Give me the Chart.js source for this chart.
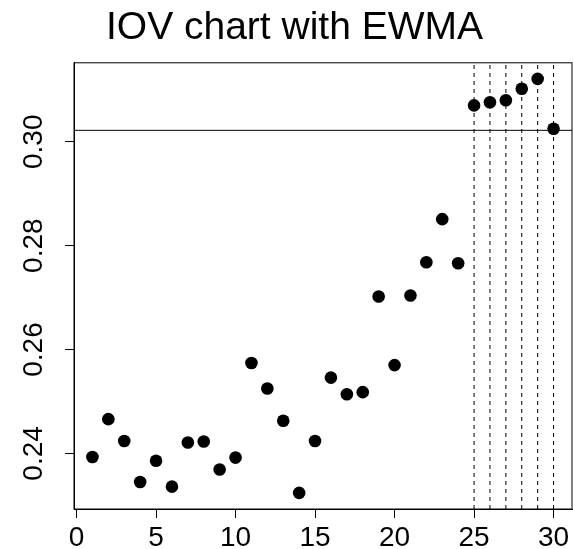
<!DOCTYPE html>
<html>
<head>
<meta charset="utf-8">
<script src="https://cdn.jsdelivr.net/npm/chart.js@4/dist/chart.umd.min.js"></script>
<style>
  body { margin: 0; background: #fff; }
  canvas { display: block; }
</style>
</head>
<body>
<canvas id="iov" width="573" height="549"></canvas>
<script>
var obsX = [1, 2, 3, 4, 5, 6, 7, 8, 9, 10, 11, 12, 13, 14, 15,
            16, 17, 18, 19, 20, 21, 22, 23, 24, 25, 26, 27, 28, 29, 30];
var iovY = [0.2393, 0.2466, 0.2424, 0.2345, 0.2386, 0.2336, 0.2421, 0.2423, 0.2369, 0.2392,
            0.2574, 0.2525, 0.2463, 0.2324, 0.2424, 0.2546, 0.2514, 0.2518, 0.2702, 0.2570,
            0.2704, 0.2768, 0.2851, 0.2766, 0.3070, 0.3076, 0.3080, 0.3102, 0.3121, 0.3025];
var limitY = 0.3022;
var signalX = [25, 26, 27, 28, 29, 30];
var xTicks = [0, 5, 10, 15, 20, 25, 30];
var yTicks = [0.24, 0.26, 0.28, 0.30];
var yTickLabels = ['0.24', '0.26', '0.28', '0.30'];
var xMin = -0.16, xMax = 31.16;
var yMin = 0.2293, yMax = 0.3152;

var fontFam = '"Liberation Sans", Arial, Helvetica, sans-serif';

var points = [];
for (var i = 0; i < obsX.length; i++) {
    points.push({ x: obsX[i], y: iovY[i] });
}

var datasets = [{
    type: 'scatter',
    label: 'IOV',
    data: points,
    pointRadius: 6.3,
    pointHoverRadius: 6.3,
    pointBackgroundColor: '#000',
    pointBorderWidth: 0,
    showLine: false
}, {
    type: 'line',
    label: 'limit',
    data: [{ x: xMin, y: limitY }, { x: xMax, y: limitY }],
    borderColor: '#000',
    borderWidth: 1,
    pointRadius: 0,
    fill: false
}];

signalX.forEach(function(sx) {
    datasets.push({
        type: 'line',
        label: 'signal ' + sx,
        data: [{ x: sx, y: yMin }, { x: sx, y: yMax }],
        borderColor: '#000',
        borderWidth: 1,
        borderDash: [4, 4],
        pointRadius: 0,
        fill: false
    });
});

// box round the plot region and the rotated y labels, R style
var boxPlugin = {
    id: 'rbox',
    afterDraw: function(chart) {
        var ctx = chart.ctx;
        var a = chart.chartArea;
        ctx.save();
        ctx.strokeStyle = '#000';
        ctx.lineWidth = 1;
        ctx.strokeRect(a.left, a.top, a.right - a.left, a.bottom - a.top);
        var ys = chart.scales.y;
        ctx.fillStyle = '#000';
        ctx.font = '28px ' + fontFam;
        ctx.textAlign = 'center';
        ctx.textBaseline = 'middle';
        for (var k = 0; k < yTicks.length; k++) {
            var py = ys.getPixelForValue(yTicks[k]);
            ctx.save();
            ctx.translate(34, py);
            ctx.rotate(-Math.PI / 2);
            ctx.fillText(yTickLabels[k], 0, 0);
            ctx.restore();
        }
        ctx.restore();
    }
};

new Chart(document.getElementById('iov'), {
    type: 'scatter',
    data: { datasets: datasets },
    options: {
        responsive: false,
        animation: false,
        layout: { autoPadding: false, padding: { left: 17, right: 1, top: 0, bottom: 0 } },
        plugins: {
            legend: { display: false },
            tooltip: { enabled: false },
            title: {
                display: true,
                text: 'IOV chart with EWMA',
                color: '#000',
                font: { family: fontFam, size: 39, weight: 'normal' },
                padding: { top: 5, bottom: 11 }
            }
        },
        scales: {
            x: {
                type: 'linear',
                min: xMin,
                max: xMax,
                afterBuildTicks: function(scale) {
                    scale.ticks = xTicks.map(function(v) { return { value: v }; });
                },
                afterFit: function(scale) {
                    scale.height = 40;
                    scale.paddingLeft = 0;
                    scale.paddingRight = 0;
                },
                grid: { drawOnChartArea: false, drawTicks: true, tickLength: 9, color: '#000' },
                border: { display: true, color: '#000' },
                ticks: {
                    color: '#000',
                    padding: 3,
                    maxRotation: 0,
                    font: { family: fontFam, size: 28 }
                }
            },
            y: {
                type: 'linear',
                min: yMin,
                max: yMax,
                afterBuildTicks: function(scale) {
                    scale.ticks = yTicks.map(function(v) { return { value: v }; });
                },
                afterFit: function(scale) {
                    scale.width = 57;
                    scale.paddingTop = 0;
                    scale.paddingBottom = 0;
                },
                grid: { drawOnChartArea: false, drawTicks: true, tickLength: 9, color: '#000' },
                border: { display: true, color: '#000' },
                ticks: { display: false }
            }
        }
    },
    plugins: [boxPlugin]
});
</script>
</body>
</html>
